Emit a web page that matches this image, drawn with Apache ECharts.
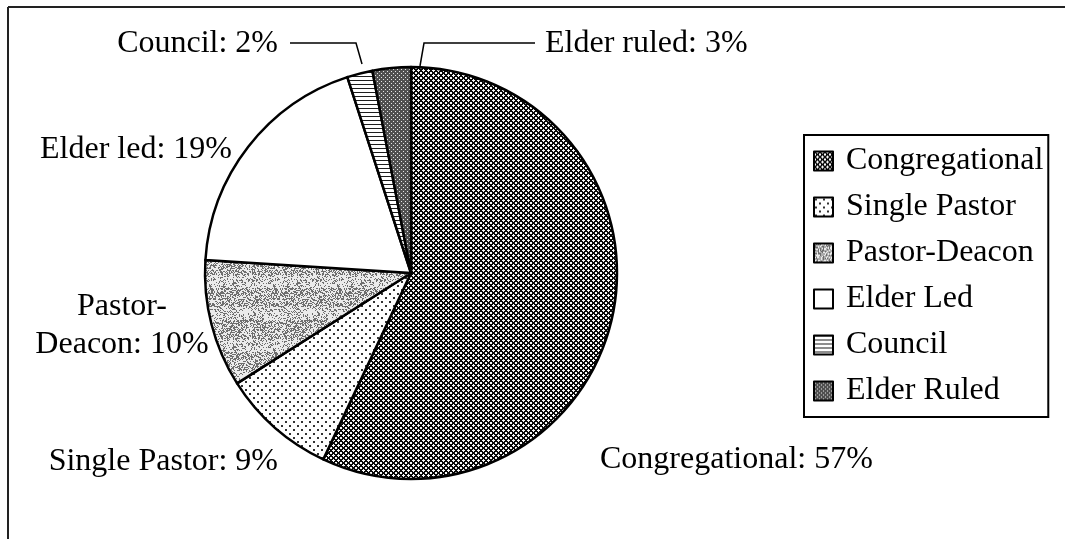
<!DOCTYPE html>
<html style="height: 100%">
<head>
    <meta charset="utf-8">
    <script src="https://cdn.jsdelivr.net/npm/echarts@6/dist/echarts.min.js"></script>
</head>
<body style="height:100%;margin:0;background:#fff">
    <div id="main" style="width:1065px;height:539px;"></div>
    <script type="text/javascript">

        // data
        var categories = ['Congregational', 'Single Pastor', 'Pastor-Deacon', 'Elder Led', 'Council', 'Elder Ruled'];
        var labelNames = ['Congregational', 'Single Pastor', 'Pastor-\nDeacon', 'Elder led', 'Council', 'Elder ruled'];
        var shares = [57, 9, 10, 19, 2, 3];

        // label placement (pixels)
        var labelPos = [
            { x: 600, y: 460, align: 'left' },
            { x: 278, y: 462, align: 'right' },
            { x: 122, y: 326, align: 'center' },
            { x: 232, y: 150, align: 'right' },
            { x: 278, y: 44, align: 'right' },
            { x: 545, y: 44, align: 'left' }
        ];
        var leaderLines = {
            4: [[362, 64], [356, 43], [290, 43]],
            5: [[420, 66], [424, 43], [535, 43]]
        };

        // fill textures
        function tile(w, h, fn) {
            var c = document.createElement('canvas');
            c.width = w; c.height = h;
            var ctx = c.getContext('2d');
            var img = ctx.createImageData(w, h);
            for (var y = 0; y < h; y++) {
                for (var x = 0; x < w; x++) {
                    var v = fn(x, y);
                    var i = (y * w + x) * 4;
                    img.data[i] = img.data[i + 1] = img.data[i + 2] = v;
                    img.data[i + 3] = 255;
                }
            }
            ctx.putImageData(img, 0, 0);
            return { image: c, repeat: 'repeat' };
        }
        function hash(x, y) {
            var n = (x * 374761393 + y * 668265263) | 0;
            n = (n ^ (n >>> 13)) * 1274126177;
            n = n ^ (n >>> 16);
            return ((n >>> 0) % 1000) / 1000;
        }
        var fills = [
            tile(5, 5, function (x, y) {
                return ((x + y) % 5 < 2 || (x - y + 50) % 5 < 2) ? 10 : 250;
            }),
            tile(8, 8, function (x, y) {
                var a = (x === 1 || x === 2) && (y === 1 || y === 2);
                var b = (x === 5 || x === 6) && (y === 5 || y === 6);
                return (a || b) ? 50 : 255;
            }),
            tile(64, 64, function (x, y) {
                var band = (y % 32) > 18 ? 0.25 : 0.5;
                return hash(x, y) < band ? 110 : 235;
            }),
            tile(4, 4, function () { return 255; }),
            tile(1, 4, function (x, y) { return y === 0 ? 30 : 255; }),
            tile(4, 4, function (x, y) {
                return ((x === 1 && y === 1) || (x === 3 && y === 3)) ? 230 : 80;
            })
        ];

        var seriesData = categories.map(function (name, i) {
            var item = { name: name, value: shares[i], itemStyle: { color: fills[i] } };
            if (leaderLines[i]) item.labelLine = { show: true };
            return item;
        });

        var font = '"Liberation Serif", "Times New Roman", serif';

        var myChart = echarts.init(document.getElementById('main'));
        var option = {
            animation: false,
            backgroundColor: '#fff',
            graphic: [
                { type: 'line', shape: { x1: 8, y1: 7, x2: 1065, y2: 7 }, style: { stroke: '#222', lineWidth: 2 } },
                { type: 'line', shape: { x1: 8, y1: 7, x2: 8, y2: 539 }, style: { stroke: '#222', lineWidth: 2 } }
            ],
            legend: {
                orient: 'vertical',
                left: 804,
                top: 135,
                data: categories,
                icon: 'rect',
                itemWidth: 19,
                itemHeight: 19,
                itemGap: 14,
                padding: [10, 5, 10, 9],
                borderColor: '#000',
                borderWidth: 2,
                selectedMode: false,
                itemStyle: { borderColor: '#000', borderWidth: 2 },
                textStyle: {
                    fontFamily: font,
                    fontSize: 32,
                    lineHeight: 32,
                    color: '#000',
                    padding: [0, 0, 0, 8]
                }
            },
            series: [
                {
                    type: 'pie',
                    center: [411, 273],
                    radius: 206,
                    startAngle: 90,
                    clockwise: true,
                    avoidLabelOverlap: false,
                    silent: true,
                    data: seriesData,
                    itemStyle: { borderColor: '#000', borderWidth: 2.5 },
                    label: {
                        position: 'outside',
                        fontFamily: font,
                        fontSize: 32,
                        lineHeight: 38,
                        color: '#000',
                        formatter: function (p) {
                            return labelNames[p.dataIndex] + ': ' + p.value + '%';
                        }
                    },
                    labelLine: {
                        show: false,
                        lineStyle: { color: '#000', width: 1.5 }
                    },
                    labelLayout: function (p) {
                        var pos = labelPos[p.dataIndex];
                        var out = { x: pos.x, y: pos.y, align: pos.align, verticalAlign: 'middle' };
                        if (leaderLines[p.dataIndex]) out.labelLinePoints = leaderLines[p.dataIndex];
                        return out;
                    }
                }
            ]
        };
        myChart.setOption(option);
    </script>
</body>
</html>
